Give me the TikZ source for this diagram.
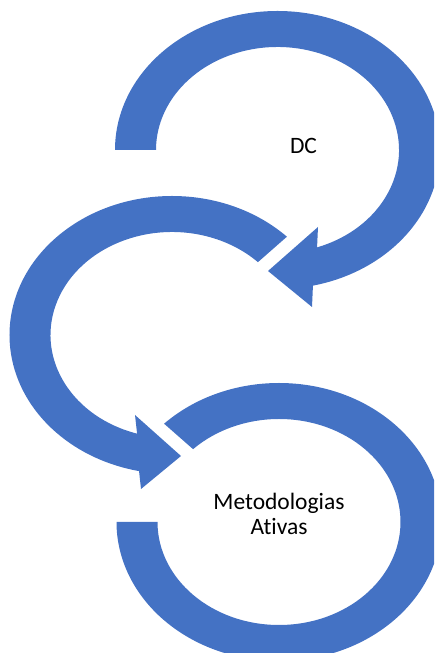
\documentclass[tikz,border=0pt]{standalone}
\usepackage{fontspec}
\setmainfont[Ligatures=NoCommon]{Carlito}
\usetikzlibrary{positioning}
\definecolor{arrowblue}{HTML}{4472C4}
\tikzset{
  band/.style={fill=arrowblue, draw=none},
  cyclelabel/.style={inner sep=0pt, align=center, font=\fontsize{23.5}{25}\selectfont}
}

\begin{document}
\begin{tikzpicture}[x=1pt, y=1pt]
        \useasboundingbox (0,0) rectangle (434,653);
        \clip (0,0) rectangle (434,653);
        % centres of the three rings
        \coordinate (topc) at (277.5,503);
        \coordinate (midc) at (172,318);
        \coordinate (botc) at (279,131);
        % top ring, head pointing down-left
        \fill[band] ([shift={(topc)}]180:162.5pt and 139pt)
            arc[start angle=180, end angle=-77.4, x radius=162.5pt, y radius=139pt]
            -- (312,346) -- (268,382) -- (318,426)
            -- ([shift={(topc)}]-71:121.5pt and 103pt)
            arc[start angle=-71, end angle=180, x radius=121.5pt, y radius=103pt] -- cycle;
        % middle ring, head pointing right
        \fill[band] ([shift={(midc)}]45:162.5pt and 139pt)
            arc[start angle=45, end angle=258.3, x radius=162.5pt, y radius=139pt]
            -- (141,164) -- (181,197) -- (135,238)
            -- ([shift={(midc)}]253.3:121.5pt and 103pt)
            arc[start angle=253.3, end angle=45, x radius=121.5pt, y radius=103pt] -- cycle;
        % bottom ring, no head
        \fill[band] ([shift={(botc)}]135:162.5pt and 139pt)
            arc[start angle=135, end angle=-180, x radius=162.5pt, y radius=139pt]
            -- ([shift={(botc)}]180:121.5pt and 103pt)
            arc[start angle=-180, end angle=135, x radius=121.5pt, y radius=103pt] -- cycle;
        \node[cyclelabel] (dc) at (303.5,507.5) {DC};
        \node[cyclelabel] (metod) at (279,139) {Metodologias\\Ativas};
    \end{tikzpicture}
\end{document}
